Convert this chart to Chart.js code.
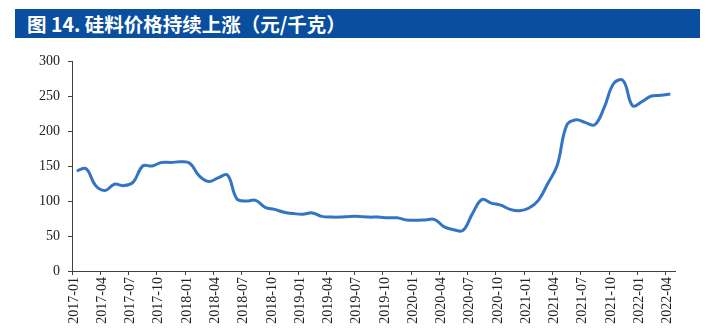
<!DOCTYPE html>
<html>
<head>
<meta charset="utf-8">
<script src="https://cdn.jsdelivr.net/npm/chart.js@4/dist/chart.umd.min.js"></script>
<style>
  html, body { margin: 0; padding: 0; background: #fff; }
  body { width: 714px; height: 334px; position: relative; overflow: hidden; }
  #title {
    position: absolute; left: 15px; top: 9px; width: 685px; height: 29px;
    background: #0a4f9f; color: #fff;
    font-family: "Noto Sans CJK SC", "Noto Sans", sans-serif; font-weight: bold;
    font-size: 19.5px; line-height: 29px; padding-left: 12px; box-sizing: border-box;
    white-space: nowrap;
  }
  #wrap { position: absolute; left: 0; top: 0; width: 714px; height: 334px; }
</style>
</head>
<body>
<div id="title">图 14. 硅料价格持续上涨（元/千克）</div>
<div id="wrap"><canvas id="c" width="714" height="334"></canvas></div>
<script>
// Monthly polysilicon price, yuan per kg, 2017-01 .. 2022-04
const months = [];
for (let y = 2017; y <= 2022; y++) {
  for (let m = 1; m <= 12; m++) {
    if (y === 2022 && m > 4) break;
    months.push(y + '-' + String(m).padStart(2, '0'));
  }
}
const prices = [
  143, 146, 122, 115, 124, 122, 127, 150, 150, 155, 155, 156,
  154, 136, 128, 133, 137, 103, 100, 101, 91, 88, 84, 82,
  81, 83, 78, 77, 77, 78, 78, 77, 77, 76, 76, 73,
  72.5, 73, 73.5, 63, 59, 58, 82, 102, 97, 94,
  88, 86, 90, 101, 125, 151, 208, 216, 212, 209,
  234, 268, 272, 236, 242, 250, 251, 253
];
// y-axis ticks
const yTicks = [0, 50, 100, 150, 200, 250, 300];
// every third month is labelled on the x-axis
const xTickIdx = months.map((_, i) => i).filter(i => i % 3 === 0);

const points = prices.map((v, i) => ({ x: i + 0.5, y: v }));
const axisColor = '#404040';
const serif = { family: '"Liberation Serif", "Times New Roman", serif', size: 14 };

new Chart(document.getElementById('c'), {
  type: 'line',
  data: {
    datasets: [{
      data: points,
      borderColor: '#3474c6',
      borderWidth: 3,
      pointRadius: 0,
      tension: 0.4,
      fill: false
    }]
  },
  options: {
    responsive: false,
    animation: false,
    plugins: { legend: { display: false }, tooltip: { enabled: false } },
    layout: { padding: { left: 30, right: 39, top: 61, bottom: 0 } },
    scales: {
      x: {
        type: 'linear',
        min: 0,
        max: months.length,
        afterBuildTicks: s => { s.ticks = xTickIdx.map(v => ({ value: v })); },
        afterFit: s => { s.height = 63; },
        ticks: {
          autoSkip: false,
          minRotation: 90,
          maxRotation: 90,
          color: '#222',
          font: serif,
          padding: 2,
          labelOffset: 2,
          callback: v => months[v] || ''
        },
        grid: { display: true, drawOnChartArea: false, drawTicks: true, tickLength: 4, color: axisColor },
        border: { display: true, color: axisColor, width: 1 }
      },
      y: {
        min: 0,
        max: 300,
        afterBuildTicks: s => { s.ticks = yTicks.map(v => ({ value: v })); },
        afterFit: s => { s.width = 42; },
        ticks: { color: '#222', font: serif, padding: 8 },
        grid: { display: true, drawOnChartArea: false, drawTicks: true, tickLength: 4, color: axisColor },
        border: { display: true, color: axisColor, width: 1 }
      }
    }
  }
});
</script>
</body>
</html>
